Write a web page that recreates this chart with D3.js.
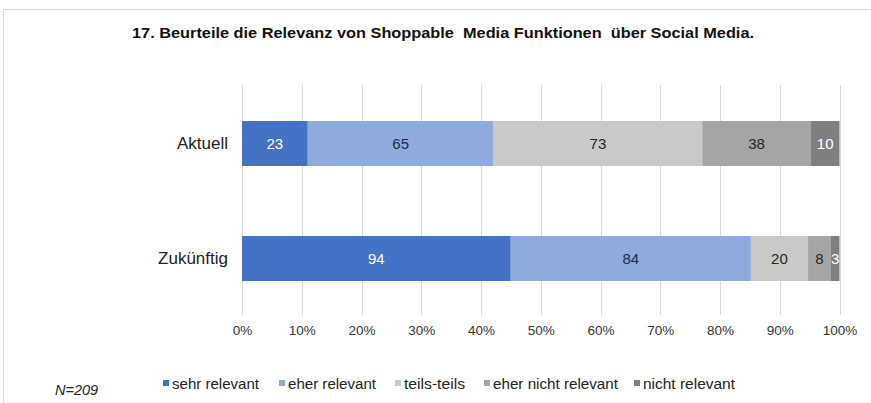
<!DOCTYPE html>
<html>
<head>
<meta charset="utf-8">
<script src="https://cdn.jsdelivr.net/npm/d3@7"></script>
<style>
  html, body { margin: 0; padding: 0; background: #fff; }
  svg { display: block; }
</style>
</head>
<body>
<svg id="chart" width="871" height="403"></svg>
<script>
// Survey answers per time frame (absolute counts, N = 209)
const categories = ["Aktuell", "Zukünftig"];
const seriesNames = ["sehr relevant", "eher relevant", "teils-teils", "eher nicht relevant", "nicht relevant"];
const sehrRelevant = [23, 94];
const eherRelevant = [65, 84];
const teilsTeils = [73, 20];
const eherNichtRelevant = [38, 8];
const nichtRelevant = [10, 3];
const tickValues = [0, 0.1, 0.2, 0.3, 0.4, 0.5, 0.6, 0.7, 0.8, 0.9, 1];
const titleText = "17. Beurteile die Relevanz von Shoppable\u00a0 Media Funktionen\u00a0 über Social Media.";
const noteText = "N=209";

const seriesValues = [sehrRelevant, eherRelevant, teilsTeils, eherNichtRelevant, nichtRelevant];
const colors = ["#4472C4", "#8FAADC", "#C9C9C9", "#A5A5A5", "#7F7F7F"];
const labelColors = ["#ffffff", "#1f2a44", "#262626", "#262626", "#ffffff"];

const svg = d3.select("#chart");
const font = "Arial, 'Liberation Sans', sans-serif";

// Frame
svg.append("path")
  .attr("d", "M3.5,403 L3.5,9.5 L871,9.5")
  .attr("fill", "none").attr("stroke", "#d9d9d9").attr("stroke-width", 1);

// Title
svg.append("text")
  .attr("x", 443).attr("y", 38)
  .attr("text-anchor", "middle")
  .attr("font-family", font).attr("font-weight", "bold").attr("font-size", 15)
  .attr("fill", "#111")
  .attr("textLength", 622).attr("lengthAdjust", "spacingAndGlyphs")
  .text(titleText);

// Stack rows as shares of total
const rows = categories.map((c, i) => {
  const o = { cat: c };
  seriesNames.forEach((s, j) => { o[s] = seriesValues[j][i]; });
  return o;
});
const stack = d3.stack().keys(seriesNames).offset(d3.stackOffsetExpand);
const layers = stack(rows);

const x = d3.scaleLinear().domain([0, 1]).range([242, 839.5]);
const y = d3.scaleBand().domain(categories).range([86, 316]).paddingInner(0.609).paddingOuter(0.3045);

// Grid lines
svg.append("g").selectAll("line").data(tickValues).join("line")
  .attr("x1", d => Math.round(x(d)) + 0.5).attr("x2", d => Math.round(x(d)) + 0.5)
  .attr("y1", 85).attr("y2", 315)
  .attr("stroke", "#d9d9d9").attr("stroke-width", 1);

// Bars
const g = svg.append("g");
layers.forEach((layer, j) => {
  g.selectAll(null).data(layer).join("rect")
    .attr("x", d => x(d[0]))
    .attr("y", d => y(d.data.cat))
    .attr("width", d => x(d[1]) - x(d[0]))
    .attr("height", y.bandwidth())
    .attr("fill", colors[j]);
  g.selectAll(null).data(layer).join("text")
    .attr("x", d => (x(d[0]) + x(d[1])) / 2)
    .attr("y", d => y(d.data.cat) + y.bandwidth() / 2)
    .attr("dy", "0.35em")
    .attr("text-anchor", "middle")
    .attr("font-family", font).attr("font-size", 15)
    .attr("fill", labelColors[j])
    .text(d => d.data[seriesNames[j]]);
});

// Category axis labels
svg.append("g").selectAll("text").data(categories).join("text")
  .attr("x", 228)
  .attr("y", d => y(d) + y.bandwidth() / 2)
  .attr("dy", "0.35em")
  .attr("text-anchor", "end")
  .attr("font-family", font).attr("font-size", 17)
  .attr("fill", "#222")
  .text(d => d);

// Percentage axis
const xAxis = d3.axisBottom(x).tickValues(tickValues).tickFormat(d3.format(".0%")).tickSize(0).tickPadding(0);
const ax = svg.append("g").attr("transform", "translate(0,325)").call(xAxis);
ax.select(".domain").remove();
ax.selectAll("text")
  .attr("font-family", font).attr("font-size", 13.5).attr("fill", "#333")
  .attr("dy", "0.71em");

// Legend: marker position and text width per entry
const legendX = [163, 279, 395, 484, 634];
const legendW = [87, 88, 61, 125, 92];
const legend = svg.append("g").selectAll("g").data(seriesNames).join("g")
  .attr("transform", (d, i) => `translate(${legendX[i]},0)`);
legend.append("rect")
  .attr("x", 0).attr("y", 380).attr("width", 6).attr("height", 6)
  .attr("fill", (d, i) => colors[i]);
legend.append("text")
  .attr("x", 9).attr("y", 389)
  .attr("font-family", font).attr("font-size", 14.5).attr("fill", "#222")
  .attr("textLength", (d, i) => legendW[i]).attr("lengthAdjust", "spacingAndGlyphs")
  .text(d => d);

// Sample size note
svg.append("text")
  .attr("x", 55).attr("y", 395)
  .attr("font-family", font).attr("font-style", "italic").attr("font-size", 14.5)
  .attr("fill", "#222")
  .text(noteText);
</script>
</body>
</html>
